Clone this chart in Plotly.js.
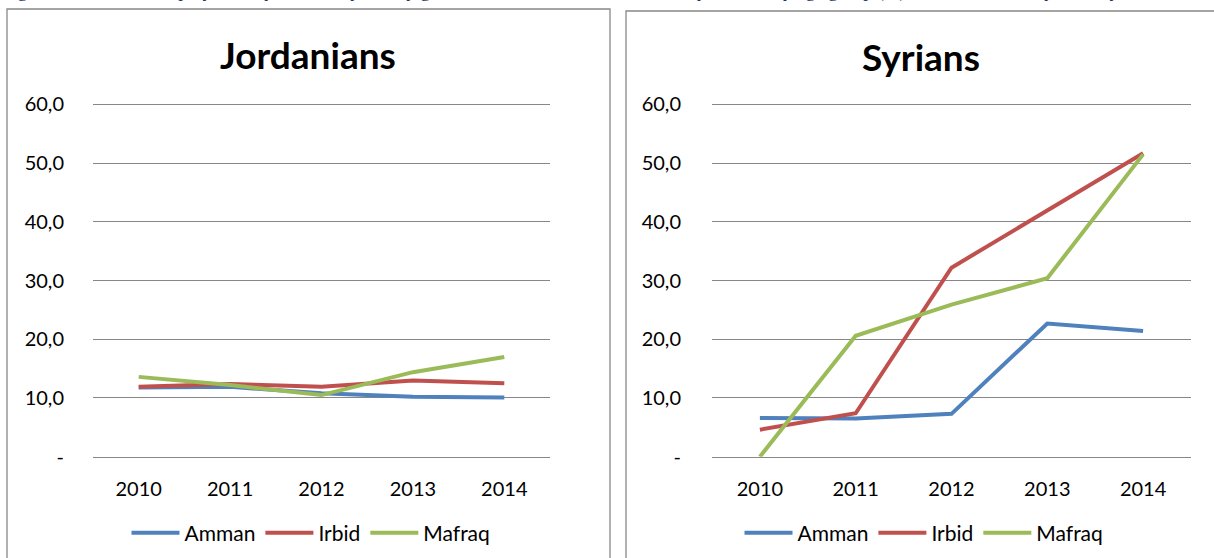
<!DOCTYPE html>
<html>
<head>
<meta charset="utf-8">
<script src="https://cdn.plot.ly/plotly-3.0.1.min.js"></script>
<style>
  html, body { margin: 0; padding: 0; background: #ffffff; }
  #chart { width: 1214px; height: 558px; }
</style>
</head>
<body>
<div id="chart"></div>
<script>
  // categories and series
  const years = ['2010', '2011', '2012', '2013', '2014'];
  const seriesNames = ['Amman', 'Irbid', 'Mafraq'];

  const jordAmman  = [11.8, 11.9, 10.8, 10.2, 10.1];
  const jordIrbid  = [11.9, 12.4, 11.9, 13.0, 12.5];
  const jordMafraq = [13.6, 12.2, 10.5, 14.4, 17.0];

  const syrAmman  = [6.6, 6.5, 7.3, 22.7, 21.4];
  const syrIrbid  = [4.6, 7.4, 32.2, 41.9, 51.7];
  const syrMafraq = [0.0, 20.6, 25.9, 30.4, 51.5];

  const panelTitles = ['Jordanians', 'Syrians'];
  const yTickVals = [0, 10, 20, 30, 40, 50, 60];
  const yTickText = ['-', '10,0', '20,0', '30,0', '40,0', '50,0', '60,0'];
  const caption = 'Figure 4: Rate of unemployment by nationality and by governorate in Jordan, 2010-2014, by sex and by age group (%), Jordanians and Syrians, by';

  const W = 1214, H = 558;
  const px = v => v / W;
  const py = v => 1 - v / H;

  const COLORS = ['#4F81BD', '#C0504D', '#9BBB59'];
  const FONT = 'Lato, "Open Sans", "Liberation Sans", sans-serif';
  const GRID = '#878787';

  function lineTrace(y, i, xa, ya, legend) {
    return {
      x: years, y: y, type: 'scatter', mode: 'lines',
      name: seriesNames[i], xaxis: xa, yaxis: ya, legend: legend,
      line: { color: COLORS[i], width: 4 },
      hoverinfo: 'skip'
    };
  }

  const data = [
    lineTrace(jordAmman, 0, 'x', 'y', 'legend'),
    lineTrace(jordIrbid, 1, 'x', 'y', 'legend'),
    lineTrace(jordMafraq, 2, 'x', 'y', 'legend'),
    lineTrace(syrAmman, 0, 'x2', 'y2', 'legend2'),
    lineTrace(syrIrbid, 1, 'x2', 'y2', 'legend2'),
    lineTrace(syrMafraq, 2, 'x2', 'y2', 'legend2')
  ];

  // 0 sits at y=456.7px, 60 at y=104.5px; top of range a hair above 60 so its gridline is drawn
  const yTop = 60.3;
  const pxPerUnit = (456.7 - 104.5) / 60;
  const yDomain = [py(456.7), py(456.7 - yTop * pxPerUnit)];

  function xAxis(domain, anchor) {
    return {
      domain: domain, anchor: anchor, type: 'category',
      range: [-0.5, 4.5], fixedrange: true,
      showgrid: false, zeroline: false,
      showline: true, linecolor: GRID, linewidth: 1,
      ticks: '', ticklabelstandoff: 14,
      tickfont: { family: FONT, size: 20, color: '#000000' }
    };
  }
  // invisible ticks push the labels away from the gridlines, like the Excel gap
  function yAxis(anchor, gap) {
    return {
      anchor: anchor, domain: yDomain, range: [0, yTop], fixedrange: true,
      tickvals: yTickVals, ticktext: yTickText,
      showgrid: true, gridcolor: GRID, gridwidth: 1,
      zeroline: false, showline: false,
      ticks: 'outside', ticklen: gap, tickcolor: 'rgba(0,0,0,0)',
      tickfont: { family: FONT, size: 20, color: '#000000' }
    };
  }

  function legendAt(cx) {
    return {
      orientation: 'h', x: px(cx), xanchor: 'center', y: py(533), yanchor: 'middle',
      font: { family: FONT, size: 21, color: '#000000' },
      itemwidth: 48, bgcolor: 'rgba(0,0,0,0)', tracegroupgap: 0
    };
  }

  const border = { color: '#888888', width: 1.3 };
  const layout = {
    width: W, height: H,
    margin: { l: 0, r: 0, t: 0, b: 0 },
    paper_bgcolor: '#ffffff', plot_bgcolor: '#ffffff',
    font: { family: FONT, color: '#000000' },
    showlegend: true,
    xaxis: xAxis([px(93), px(550)], 'y'),
    yaxis: yAxis('x', 24),
    xaxis2: xAxis([px(712), px(1191)], 'y2'),
    yaxis2: yAxis('x2', 26),
    legend: legendAt(311),
    legend2: legendAt(924),
    shapes: [
      { type: 'rect', xref: 'paper', yref: 'paper', x0: px(7), x1: px(610), y0: py(570), y1: py(9), line: border },
      { type: 'rect', xref: 'paper', yref: 'paper', x0: px(626), x1: px(1225), y0: py(570), y1: py(11), line: border }
    ],
    annotations: [
      { text: '<b>' + panelTitles[0] + '</b>', xref: 'paper', yref: 'paper', x: px(308), y: py(54),
        xanchor: 'center', yanchor: 'middle', showarrow: false,
        font: { family: FONT, size: 37, color: '#000000' } },
      { text: '<b>' + panelTitles[1] + '</b>', xref: 'paper', yref: 'paper', x: px(921), y: py(56),
        xanchor: 'center', yanchor: 'middle', showarrow: false,
        font: { family: FONT, size: 37, color: '#000000' } },
      { text: caption, xref: 'paper', yref: 'paper', x: px(0), y: py(-9.5),
        xanchor: 'left', yanchor: 'middle', showarrow: false,
        font: { family: '"Liberation Serif", "DejaVu Serif", serif', size: 19, color: '#17365D' } }
    ]
  };

  Plotly.newPlot('chart', data, layout, { displayModeBar: false, staticPlot: true });
</script>
</body>
</html>
